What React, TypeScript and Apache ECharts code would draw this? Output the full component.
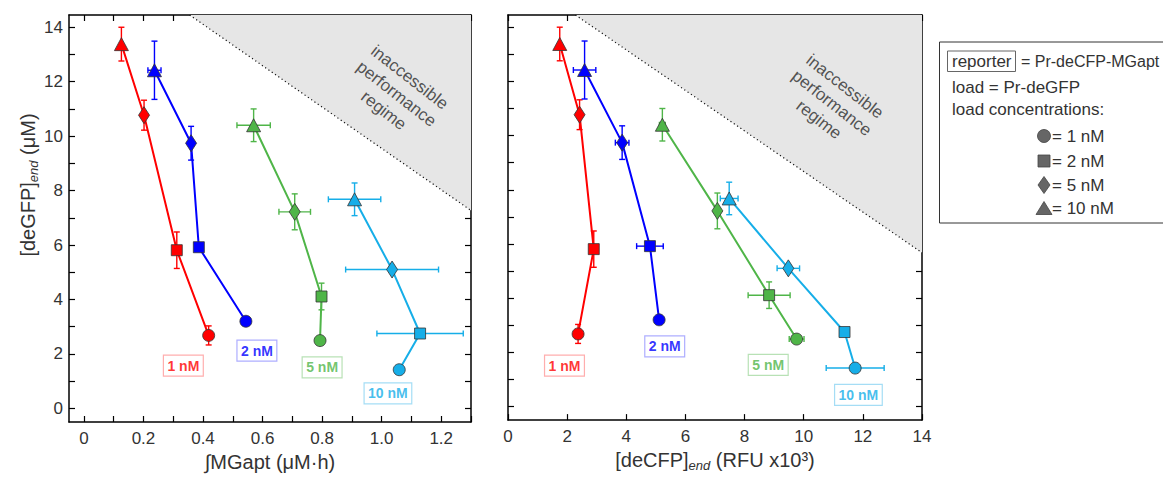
import React, { useEffect, useRef } from 'react';
import * as echarts from 'echarts';

const FONT = '"Liberation Sans", Arial, Helvetica, sans-serif';

// load concentration order within each series: 10 nM, 5 nM, 2 nM, 1 nM
const loadSymbols = ['triangle', 'diamond', 'rect', 'circle'];
const loadSymbolSizes: any[] = [[14, 13], [11, 17], [11, 11], 12];
const reporterNames = ['1 nM', '2 nM', '5 nM', '10 nM'];
const colors = ['#ff0000', '#0000ff', '#4fb548', '#16aee8'];
const labelBorderColors = ['#ff9a9a', '#9a9aff', '#a6d9a2', '#8fd5f3'];

// [deGFP]end (µM), shared by both panels
const deGFPEnd = [
  [13.38, 10.77, 5.81, 2.68],
  [12.42, 9.74, 5.92, 3.2],
  [10.4, 7.22, 4.11, 2.49],
  [7.68, 5.1, 2.75, 1.42],
];
const deGFPErr = [
  [0.62, 0.55, 0.67, 0.35],
  [1.07, 0.62, 0, 0],
  [0.6, 0.66, 0.49, 0],
  [0.6, 0, 0, 0],
];
// ∫MGapt (µM·h)
const mgaptInt = [
  [0.126, 0.202, 0.312, 0.419],
  [0.237, 0.36, 0.386, 0.544],
  [0.57, 0.708, 0.798, 0.793],
  [0.909, 1.035, 1.129, 1.059],
];
const mgaptErr = [
  [0, 0, 0, 0],
  [0.022, 0.008, 0.013, 0.012],
  [0.056, 0.053, 0.005, 0],
  [0.088, 0.156, 0.145, 0],
];
// [deCFP]end (RFU x10^3)
const deCFPEnd = [
  [1.75, 2.42, 2.9, 2.37],
  [2.59, 3.86, 4.8, 5.11],
  [5.22, 7.08, 8.83, 9.76],
  [7.48, 9.48, 11.38, 11.74],
];
const deCFPErr = [
  [0, 0, 0, 0],
  [0.38, 0.23, 0.45, 0.12],
  [0.1, 0, 0.71, 0.25],
  [0.3, 0.38, 0.1, 0.98],
];

// boxed series labels
const leftLabelX = [0.334, 0.581, 0.8, 1.021];
const leftLabelY = [1.57, 2.12, 1.51, 0.55];
const rightLabelX = [1.91, 5.3, 8.8, 11.85];
const rightLabelY = [1.51, 2.22, 1.54, 0.43];

// inaccessible regime boundaries
const leftBoundary = [[0.355, 14.45], [1.3, 7.27]];
const rightBoundary = [[2.28, 14.45], [14, 5.68]];
const leftRegimeText = [1.05, 11.55];
const rightRegimeText = [10.95, 11.2];

// ticks
const leftXTicks = [0, 0.1, 0.2, 0.3, 0.4, 0.5, 0.6, 0.7, 0.8, 0.9, 1.0, 1.1, 1.2, 1.3];
const leftXLabels = [0, 0.2, 0.4, 0.6, 0.8, 1.0, 1.2];
const yTicks = [0, 1, 2, 3, 4, 5, 6, 7, 8, 9, 10, 11, 12, 13, 14];
const yLabels = [0, 2, 4, 6, 8, 10, 12, 14];

const axisLineStyle = { show: true, onZero: false, lineStyle: { color: '#000', width: 1.5 } };
const tickStyle = { color: '#000', width: 1.2 };
const labelStyle = { color: '#333', fontSize: 17, fontFamily: FONT };

const nameRich = {
  a: { fontSize: 20, color: '#333', fontFamily: FONT, lineHeight: 24, verticalAlign: 'middle' },
  sub: { fontSize: 13, color: '#333', fontFamily: FONT, fontStyle: 'italic', lineHeight: 13, verticalAlign: 'bottom' },
};

function errorBarSeries(name: string, xs: number[], ys: number[], exs: number[], eys: number[], color: string, axisIdx: number) {
  return {
    type: 'custom',
    name,
    xAxisIndex: axisIdx,
    yAxisIndex: axisIdx,
    z: 2,
    encode: { x: 0, y: 1 },
    data: xs.map((x, k) => [x, ys[k], exs[k], eys[k]]),
    renderItem: (params: any, api: any) => {
      const x = api.value(0);
      const y = api.value(1);
      const ex = api.value(2);
      const ey = api.value(3);
      const c = api.coord([x, y]);
      const style = { stroke: color, lineWidth: 1.4 };
      const cap = 3;
      const children: any[] = [];
      if (ey > 0) {
        const t = api.coord([x, y + ey]);
        const b = api.coord([x, y - ey]);
        children.push({ type: 'line', shape: { x1: c[0], y1: t[1], x2: c[0], y2: b[1] }, style });
        children.push({ type: 'line', shape: { x1: c[0] - cap, y1: t[1], x2: c[0] + cap, y2: t[1] }, style });
        children.push({ type: 'line', shape: { x1: c[0] - cap, y1: b[1], x2: c[0] + cap, y2: b[1] }, style });
      }
      if (ex > 0) {
        const l = api.coord([x - ex, y]);
        const r = api.coord([x + ex, y]);
        children.push({ type: 'line', shape: { x1: l[0], y1: c[1], x2: r[0], y2: c[1] }, style });
        children.push({ type: 'line', shape: { x1: l[0], y1: c[1] - cap, x2: l[0], y2: c[1] + cap }, style });
        children.push({ type: 'line', shape: { x1: r[0], y1: c[1] - cap, x2: r[0], y2: c[1] + cap }, style });
      }
      return { type: 'group', children };
    },
  };
}

function lineSeries(name: string, xs: number[], ys: number[], color: string, axisIdx: number) {
  return {
    type: 'line',
    name,
    xAxisIndex: axisIdx,
    yAxisIndex: axisIdx,
    z: 3,
    showSymbol: true,
    lineStyle: { color, width: 2 },
    itemStyle: { color, borderColor: '#333', borderWidth: 0.8 },
    data: xs.map((x, k) => ({
      value: [x, ys[k]],
      symbol: loadSymbols[k],
      symbolSize: loadSymbolSizes[k],
    })),
  };
}

function boundarySeries(pts: number[][], axisIdx: number) {
  return {
    type: 'line',
    xAxisIndex: axisIdx,
    yAxisIndex: axisIdx,
    z: 1,
    symbol: 'none',
    data: pts,
    lineStyle: { color: '#111', width: 1.2, type: [1.2, 2.8] },
    areaStyle: { color: '#e6e6e6', opacity: 1, origin: 'end' },
  };
}

function regimeTextSeries(pt: number[], axisIdx: number) {
  return {
    type: 'scatter',
    xAxisIndex: axisIdx,
    yAxisIndex: axisIdx,
    z: 4,
    symbolSize: 1,
    itemStyle: { color: 'rgba(0,0,0,0)' },
    data: [pt],
    label: {
      show: true,
      position: 'inside',
      formatter: 'inaccessible\nperformance\nregime',
      rotate: -38,
      fontSize: 17,
      lineHeight: 21,
      color: '#2a2a2a',
      fontFamily: FONT,
      align: 'center',
      verticalAlign: 'middle',
    },
  };
}

function nameLabelSeries(lx: number[], ly: number[], axisIdx: number) {
  return {
    type: 'scatter',
    xAxisIndex: axisIdx,
    yAxisIndex: axisIdx,
    z: 4,
    symbolSize: 1,
    itemStyle: { color: 'rgba(0,0,0,0)' },
    data: lx.map((x, i) => ({
      value: [x, ly[i]],
      label: {
        show: true,
        position: 'inside',
        formatter: reporterNames[i],
        color: colors[i],
        borderColor: labelBorderColors[i],
        borderWidth: 1.2,
        padding: [4, 4, 3, 4],
        fontSize: 14,
        fontWeight: 'bold',
        fontFamily: FONT,
        align: 'center',
        verticalAlign: 'middle',
      },
    })),
  };
}

export default function App() {
  const ref = useRef<HTMLDivElement>(null);
  useEffect(() => {
    if (!ref.current) return;
    const chart = echarts.init(ref.current, undefined, { renderer: 'svg' });
    const series: any[] = [];
    series.push(boundarySeries(leftBoundary, 0));
    series.push(boundarySeries(rightBoundary, 2));
    series.push(regimeTextSeries(leftRegimeText, 0));
    series.push(regimeTextSeries(rightRegimeText, 2));
    for (let i = 0; i < 4; i++) {
      series.push(errorBarSeries(reporterNames[i], mgaptInt[i], deGFPEnd[i], mgaptErr[i], deGFPErr[i], colors[i], 0));
      series.push(errorBarSeries(reporterNames[i], deCFPEnd[i], deGFPEnd[i], deCFPErr[i], deGFPErr[i], colors[i], 2));
      series.push(lineSeries(reporterNames[i], mgaptInt[i], deGFPEnd[i], colors[i], 0));
      series.push(lineSeries(reporterNames[i], deCFPEnd[i], deGFPEnd[i], colors[i], 2));
    }
    series.push(nameLabelSeries(leftLabelX, leftLabelY, 0));
    series.push(nameLabelSeries(rightLabelX, rightLabelY, 2));

    const yAxisBase = {
      type: 'value',
      min: -0.5,
      max: 14.45,
      axisLine: axisLineStyle,
      splitLine: { show: false },
      axisTick: { show: true, inside: true, length: 6, lineStyle: tickStyle, customValues: yTicks },
    };

    const legendText = (text: string, x: number, y: number, fontSize = 17) => ({
      type: 'text',
      x,
      y,
      style: { text, fill: '#333', fontSize, fontFamily: FONT, verticalAlign: 'middle', align: 'left' },
    });
    const legSym = { fill: '#666', stroke: '#444', lineWidth: 0.8 };

    chart.setOption({
      animation: false,
      backgroundColor: '#fff',
      grid: [
        { left: 69, top: 15, width: 402, height: 407 },
        { left: 508, top: 15, width: 414, height: 407 },
      ],
      xAxis: [
        {
          type: 'value',
          gridIndex: 0,
          position: 'bottom',
          min: -0.05,
          max: 1.3,
          axisLine: axisLineStyle,
          splitLine: { show: false },
          axisTick: { show: true, inside: true, length: 6, lineStyle: tickStyle, customValues: leftXTicks },
          axisLabel: {
            ...labelStyle,
            margin: 8,
            customValues: leftXLabels,
            formatter: (v: number) => (v === 0 ? '0' : v.toFixed(1)),
          },
          name: '{a|∫MGapt (μM·h)}',
          nameLocation: 'middle',
          nameGap: 26,
          nameTextStyle: { rich: nameRich },
        },
        {
          type: 'value',
          gridIndex: 0,
          position: 'top',
          min: -0.05,
          max: 1.3,
          axisLine: axisLineStyle,
          splitLine: { show: false },
          axisTick: { show: true, inside: true, length: 6, lineStyle: tickStyle, customValues: leftXTicks },
          axisLabel: { show: false },
        },
        {
          type: 'value',
          gridIndex: 1,
          position: 'bottom',
          min: 0,
          max: 14,
          interval: 2,
          axisLine: axisLineStyle,
          splitLine: { show: false },
          axisTick: { show: true, inside: true, length: 6, lineStyle: tickStyle },
          axisLabel: { ...labelStyle, margin: 8 },
          name: '{a|[deCFP]}{sub|end}{a| (RFU x10³)}',
          nameLocation: 'middle',
          nameGap: 26,
          nameTextStyle: { rich: nameRich },
        },
        {
          type: 'value',
          gridIndex: 1,
          position: 'top',
          min: 0,
          max: 14,
          interval: 2,
          axisLine: axisLineStyle,
          splitLine: { show: false },
          axisTick: { show: true, inside: true, length: 6, lineStyle: tickStyle },
          axisLabel: { show: false },
        },
      ],
      yAxis: [
        {
          ...yAxisBase,
          gridIndex: 0,
          position: 'left',
          axisLabel: { ...labelStyle, margin: 6, customValues: yLabels },
        },
        { ...yAxisBase, gridIndex: 0, position: 'right', axisLabel: { show: false } },
        { ...yAxisBase, gridIndex: 1, position: 'left', axisLabel: { show: false } },
        { ...yAxisBase, gridIndex: 1, position: 'right', axisLabel: { show: false } },
      ],
      graphic: [
        {
          type: 'text',
          x: 28,
          y: 185,
          rotation: Math.PI / 2,
          style: {
            text: '{a|[deGFP]}{sub|end}{a| (μM)}',
            align: 'center',
            verticalAlign: 'middle',
            rich: {
              a: { fontSize: 20, fill: '#333', fontFamily: FONT, lineHeight: 24, verticalAlign: 'middle' },
              sub: { fontSize: 13, fill: '#333', fontFamily: FONT, fontStyle: 'italic', lineHeight: 13, verticalAlign: 'bottom' },
            },
          },
        },
        {
          type: 'rect',
          shape: { x: 939.5, y: 42, width: 240, height: 181 },
          style: { fill: '#fff', stroke: '#333', lineWidth: 1 },
        },
        {
          type: 'rect',
          shape: { x: 947.5, y: 51, width: 68, height: 20.5 },
          style: { fill: 'none', stroke: '#666', lineWidth: 1 },
        },
        legendText('reporter', 952, 61.5),
        legendText('= Pr-deCFP-MGapt', 1021, 61.5, 16),
        legendText('load = Pr-deGFP', 952, 87.5),
        legendText('load concentrations:', 952, 109),
        { type: 'circle', shape: { cx: 1044, cy: 136, r: 6.5 }, style: legSym },
        legendText('= 1 nM', 1052, 136),
        { type: 'rect', shape: { x: 1038, y: 155, width: 12, height: 12 }, style: legSym },
        legendText('= 2 nM', 1052, 161),
        {
          type: 'polygon',
          shape: { points: [[1044, 176.5], [1050, 185], [1044, 193.5], [1038, 185]] },
          style: legSym,
        },
        legendText('= 5 nM', 1052, 185),
        {
          type: 'polygon',
          shape: { points: [[1044, 201.5], [1052, 214.5], [1036, 214.5]] },
          style: legSym,
        },
        legendText('= 10 nM', 1052, 208),
      ],
      series,
    });
    return () => chart.dispose();
  }, []);
  return (
    <div
      ref={ref}
      style={{ position: 'absolute', left: 0, top: 0, width: 1163, height: 477, background: '#fff' }}
    />
  );
}
